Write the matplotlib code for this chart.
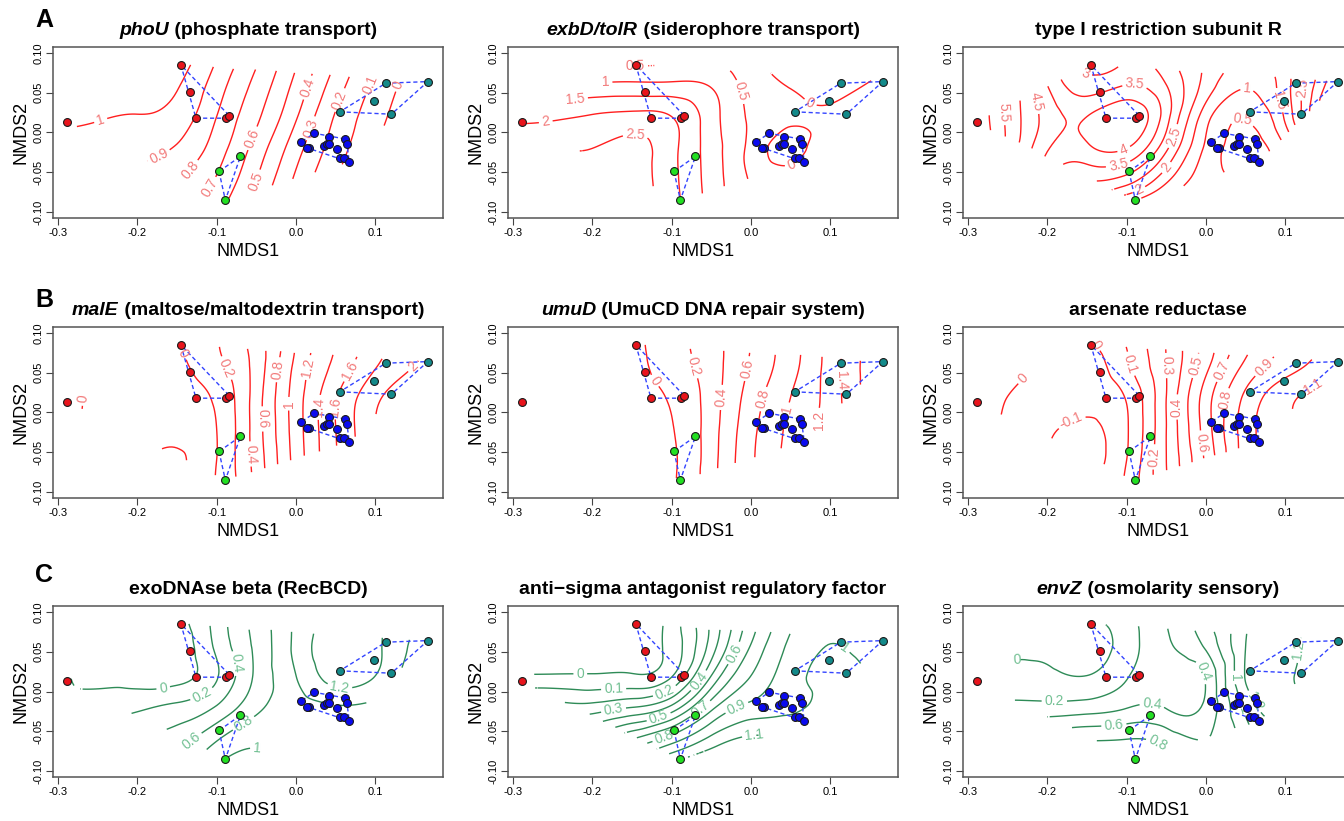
import numpy as np
import matplotlib
matplotlib.use('Agg')
import matplotlib.pyplot as plt
from matplotlib.tri import Triangulation, UniformTriRefiner
from matplotlib.path import Path
from matplotlib.transforms import offset_copy

plt.rcParams['font.family'] = ['Liberation Sans', 'DejaVu Sans']

# NMDS site scores, by group
out_x = [-0.289]
out_y = [0.013]
red_x = [-0.145, -0.134, -0.126, -0.088, -0.084]
red_y = [0.085, 0.051, 0.018, 0.018, 0.021]
green_x = [-0.097, -0.070, -0.089]
green_y = [-0.049, -0.030, -0.085]
teal_x = [0.055, 0.113, 0.098, 0.120, 0.166]
teal_y = [0.026, 0.062, 0.040, 0.023, 0.064]
blue_x = [0.006, 0.016, 0.014, 0.023, 0.035, 0.039, 0.041, 0.042, 0.052, 0.061, 0.064, 0.055, 0.060, 0.067]
blue_y = [-0.012, -0.020, -0.019, -0.001, -0.017, -0.015, -0.006, -0.015, -0.021, -0.008, -0.014, -0.032, -0.032, -0.037]

# coarse grid of fitted surface values
grid_x = [-0.30, -0.25, -0.20, -0.15, -0.10, -0.05, 0.00, 0.05, 0.10, 0.15, 0.20]
grid_y = [-0.10, -0.06, -0.02, 0.02, 0.06, 0.10]

phou_z = [
    [0.84, 0.82, 0.80, 0.74, 0.62, 0.44, 0.22, 0.06, -0.08, -0.22, -0.36],
    [0.91, 0.89, 0.87, 0.81, 0.69, 0.50, 0.28, 0.10, -0.04, -0.18, -0.32],
    [0.965, 0.95, 0.925, 0.89, 0.75, 0.56, 0.34, 0.15, 0.00, -0.14, -0.28],
    [1.03, 1.01, 0.995, 0.96, 0.80, 0.62, 0.41, 0.19, 0.04, -0.10, -0.24],
    [1.10, 1.085, 1.065, 1.01, 0.85, 0.67, 0.47, 0.25, 0.08, -0.06, -0.20],
    [1.17, 1.16, 1.14, 1.07, 0.91, 0.73, 0.53, 0.31, 0.13, -0.02, -0.16],
]
exbd_z = [
    [3.00, 3.00, 3.00, 2.90, 2.20, 1.30, 0.45, 0.30, 0.35, 0.30, 0.30],
    [2.80, 2.80, 2.80, 2.75, 2.15, 1.28, 0.45, 0.20, 0.30, 0.30, 0.30],
    [2.45, 2.50, 2.50, 2.65, 2.15, 1.25, 0.35, -0.15, 0.30, 0.25, 0.30],
    [1.85, 1.90, 2.05, 2.15, 2.00, 1.22, 0.42, 0.08, 0.10, 0.20, 0.30],
    [1.05, 1.07, 1.07, 1.10, 1.10, 0.95, 0.30, -0.03, -0.15, 0.03, 0.10],
    [0.20, 0.15, 0.15, 0.10, 0.20, 0.30, 0.05, -0.20, -0.30, -0.20, -0.10],
]
typei_z = [
    [6.5, 5.0, 2.8, 2.0, 0.8, 0.8, 0.4, 0.3, 0.6, 2.0, 3.5],
    [6.6, 5.3, 3.5, 3.0, 2.75, 1.6, 0.7, 0.4, 0.8, 2.5, 4.0],
    [6.8, 5.4, 4.05, 3.9, 4.0, 2.6, 0.9, 0.3, 1.0, 3.0, 5.0],
    [6.8, 5.4, 4.3, 4.0, 4.4, 3.2, 1.2, 0.55, 1.6, 4.0, 6.0],
    [6.6, 5.3, 4.0, 3.2, 3.5, 3.0, 1.8, 1.05, 1.8, 3.5, 5.0],
    [6.5, 5.0, 3.4, 2.7, 3.0, 2.6, 2.0, 1.5, 2.0, 3.5, 5.0],
]
male_z = [
    [0.10, -0.10, -0.15, -0.15, 0.00, 0.45, 1.05, 1.55, 1.90, 2.10, 2.30],
    [0.10, -0.10, -0.18, -0.22, 0.00, 0.48, 1.08, 1.58, 1.95, 2.20, 2.40],
    [0.10, -0.08, -0.18, -0.15, 0.00, 0.50, 1.10, 1.60, 2.00, 2.30, 2.50],
    [0.10, -0.05, -0.15, -0.12, 0.04, 0.50, 1.10, 1.58, 1.95, 2.20, 2.40],
    [0.10, -0.02, -0.10, -0.05, 0.15, 0.48, 1.05, 1.45, 1.78, 2.00, 2.20],
    [0.10, 0.00, -0.05, 0.05, 0.18, 0.50, 1.00, 1.40, 1.70, 1.95, 2.20],
]
umud_z = [
    [-0.10, -0.10, -0.10, -0.08, -0.04, 0.32, 0.78, 1.08, 1.30, 1.65, 2.00],
    [-0.10, -0.10, -0.10, -0.08, -0.03, 0.32, 0.765, 1.06, 1.30, 1.65, 2.00],
    [-0.10, -0.10, -0.10, -0.08, -0.01, 0.31, 0.74, 1.04, 1.28, 1.65, 2.00],
    [-0.10, -0.10, -0.10, -0.07, 0.024, 0.30, 0.69, 1.00, 1.29, 1.70, 2.00],
    [-0.10, -0.10, -0.10, -0.05, 0.093, 0.31, 0.625, 0.93, 1.29, 1.70, 2.00],
    [-0.10, -0.10, -0.10, -0.04, 0.12, 0.32, 0.60, 0.91, 1.28, 1.70, 2.00],
]
arsen_z = [
    [0.00, -0.05, -0.08, -0.10, 0.02, 0.30, 0.60, 0.95, 1.10, 1.15, 1.20],
    [0.00, -0.04, -0.10, -0.13, 0.00, 0.30, 0.62, 0.95, 1.10, 1.15, 1.20],
    [0.05, -0.02, -0.085, -0.115, -0.01, 0.30, 0.65, 0.95, 1.08, 1.15, 1.20],
    [0.10, 0.00, -0.05, -0.07, 0.01, 0.30, 0.65, 0.92, 1.07, 1.15, 1.20],
    [0.15, 0.05, -0.02, -0.04, 0.08, 0.30, 0.57, 0.82, 0.95, 1.05, 1.15],
    [0.20, 0.10, 0.00, 0.00, 0.12, 0.30, 0.55, 0.75, 0.90, 1.00, 1.10],
]
exo_z = [
    [0.30, 0.40, 0.50, 0.70, 1.05, 1.15, 1.00, 0.90, 0.85, 0.75, 0.60],
    [0.20, 0.30, 0.40, 0.50, 0.78, 0.95, 0.92, 0.90, 0.85, 0.75, 0.60],
    [0.05, 0.10, 0.16, 0.25, 0.42, 0.75, 0.92, 0.98, 0.95, 0.80, 0.60],
    [0.05, -0.05, -0.08, -0.08, 0.18, 0.64, 1.00, 1.30, 1.20, 0.85, 0.60],
    [-0.03, -0.08, -0.12, -0.12, 0.25, 0.65, 1.05, 1.35, 1.25, 0.95, 0.70],
    [-0.05, -0.08, -0.10, -0.05, 0.30, 0.65, 1.05, 1.30, 1.25, 1.00, 0.80],
]
anti_z = [
    [0.60, 0.70, 0.85, 1.00, 1.20, 1.25, 1.20, 1.15, 1.10, 1.05, 1.00],
    [0.45, 0.50, 0.55, 0.70, 0.85, 1.03, 1.12, 1.08, 1.05, 1.05, 1.00],
    [0.25, 0.25, 0.24, 0.30, 0.43, 0.77, 0.93, 0.98, 1.03, 1.03, 1.00],
    [0.01, 0.01, 0.01, 0.01, 0.09, 0.50, 0.80, 0.96, 1.02, 1.00, 0.97],
    [-0.15, -0.15, -0.12, -0.08, 0.04, 0.34, 0.70, 0.92, 1.00, 0.98, 0.95],
    [-0.20, -0.20, -0.20, -0.15, 0.04, 0.33, 0.63, 0.87, 0.98, 0.98, 0.95],
]
envz_z = [
    [0.80, 0.90, 0.95, 1.00, 1.05, 0.90, 0.70, 0.80, 1.10, 1.00, 0.90],
    [0.60, 0.65, 0.72, 0.78, 0.80, 0.72, 0.60, 0.90, 1.20, 1.10, 0.90],
    [0.28, 0.27, 0.27, 0.30, 0.39, 0.39, 0.45, 1.05, 1.28, 1.10, 0.90],
    [0.06, 0.05, 0.04, 0.00, 0.18, 0.30, 0.42, 1.22, 1.28, 1.00, 0.80],
    [-0.05, -0.05, -0.06, -0.10, 0.10, 0.37, 0.65, 1.20, 1.28, 1.10, 0.90],
    [-0.10, -0.10, -0.10, 0.00, 0.15, 0.40, 0.72, 1.20, 1.28, 1.15, 1.00],
]

# where the contour labels sit (data coordinates)
phou_lab = [(-0.245, 0.012), (-0.175, -0.025), (-0.135, -0.046), (-0.11, -0.069), (-0.053, -0.008),
            (-0.055, -0.06), (0.01, 0.058), (0.022, 0.004), (0.047, 0.044), (0.094, 0.06), (0.138, 0.056)]
exbd_lab = [(-0.146, 0.081), (-0.183, 0.060), (-0.221, 0.040), (-0.258, 0.010), (-0.146, -0.008),
            (-0.018, 0.05), (0.071, 0.031), (0.048, -0.033)]
typei_lab = [(-0.153, 0.071), (-0.09, 0.058), (-0.219, 0.0375), (-0.257, 0.025), (-0.105, -0.017),
             (-0.109, -0.048), (-0.043, -0.004), (-0.05, -0.044), (-0.084, -0.073), (0.051, 0.048),
             (0.045, 0.010), (0.098, 0.042), (0.121, 0.056)]
male_lab = [(-0.146, 0.072), (-0.085, 0.057), (-0.055, -0.052), (-0.039, -0.008), (-0.018, 0.053),
            (-0.007, 0.011), (0.022, 0.055), (0.026, 0.0067), (0.064, 0.055), (0.054, 0.0067),
            (0.148, 0.057), (-0.268, 0.017)]
umud_lab = [(-0.121, 0.04), (-0.068, 0.059), (-0.038, 0.019), (-0.004, 0.055), (0.015, 0.017),
            (0.053, 0.0025), (0.087, -0.01), (0.113, 0.04)]
arsen_lab = [(-0.229, 0.046), (-0.168, -0.014), (-0.17, 0.076), (-0.096, 0.061), (-0.062, -0.056),
             (-0.05, 0.059), (-0.033, 0.007), (-0.014, 0.059), (-0.01, -0.039), (0.02, 0.053),
             (0.026, 0.015), (0.075, 0.055), (0.136, 0.046)]
exo_lab = [(-0.167, 0.003), (-0.118, -0.005), (-0.07, 0.036), (-0.139, -0.053), (-0.068, -0.037),
           (-0.049, -0.068), (0.056, 0.011), (0.041, -0.022)]
anti_lab = [(-0.215, 0.024), (-0.173, 0.003), (-0.11, 0.003), (-0.173, -0.024), (-0.0625, 0.011),
            (-0.117, -0.030), (-0.019, 0.047), (-0.0635, -0.022), (-0.11, -0.055), (-0.019, -0.018),
            (0.004, -0.049), (0.119, 0.057)]
envz_lab = [(-0.2435, 0.038), (-0.191, -0.0095), (-0.068, -0.016), (-0.116, -0.043), (-0.062, -0.068),
            (0.001, 0.026), (0.036, 0.0175), (0.078, -0.0054), (0.040, -0.026), (0.124, 0.051)]

RED, RED_LAB = '#ff1f1f', '#f27a7a'
GRN, GRN_LAB = '#2e8b57', '#72c093'

panels = [
    ('phoU', ' (phosphate transport)', phou_z, np.arange(0, 1.25, 0.1), RED, RED_LAB, phou_lab),
    ('exbD/tolR', ' (siderophore transport)', exbd_z, np.arange(0, 2.6, 0.5), RED, RED_LAB, exbd_lab),
    ('', 'type I restriction subunit R', typei_z, np.arange(0.5, 7.1, 0.5), RED, RED_LAB, typei_lab),
    ('malE', ' (maltose/maltodextrin transport)', male_z, np.arange(-0.2, 2.5, 0.2), RED, RED_LAB, male_lab),
    ('umuD', ' (UmuCD DNA repair system)', umud_z, np.arange(-0.2, 2.1, 0.2), RED, RED_LAB, umud_lab),
    ('', 'arsenate reductase', arsen_z, np.arange(-0.1, 1.25, 0.1), RED, RED_LAB, arsen_lab),
    ('', 'exoDNAse beta (RecBCD)', exo_z, np.arange(0, 1.5, 0.2), GRN, GRN_LAB, exo_lab),
    ('', 'anti\u2212sigma antagonist regulatory factor', anti_z, np.arange(0, 1.25, 0.1), GRN, GRN_LAB, anti_lab),
    ('envZ', ' (osmolarity sensory)', envz_z, np.arange(0, 1.25, 0.2), GRN, GRN_LAB, envz_lab),
]


def convex_hull(xs, ys):
    pts = sorted(set(zip(xs, ys)))
    if len(pts) < 3:
        return pts

    def cross(o, a, b):
        return (a[0] - o[0]) * (b[1] - o[1]) - (a[1] - o[1]) * (b[0] - o[0])
    lower, upper = [], []
    for p in pts:
        while len(lower) >= 2 and cross(lower[-2], lower[-1], p) <= 0:
            lower.pop()
        lower.append(p)
    for p in reversed(pts):
        while len(upper) >= 2 and cross(upper[-2], upper[-1], p) <= 0:
            upper.pop()
        upper.append(p)
    return lower[:-1] + upper[:-1]


all_x = out_x + red_x + green_x + teal_x + blue_x
all_y = out_y + red_y + green_y + teal_y + blue_y
hull_path = Path(convex_hull(all_x, all_y))

# triangulated grid, refined with the cubic interpolator
gx, gy = np.meshgrid(grid_x, grid_y)
nx, ny = len(grid_x), len(grid_y)
tris = []
for j in range(ny - 1):
    for i in range(nx - 1):
        a = j * nx + i
        tris.append([a, a + 1, a + nx + 1])
        tris.append([a, a + nx + 1, a + nx])
tri = Triangulation(gx.ravel(), gy.ravel(), np.array(tris))
refiner = UniformTriRefiner(tri)

fig = plt.figure(figsize=(13.44, 8.21), dpi=100)
W, H = 1344, 821
lefts = [53, 508, 963]
tops = [47, 327, 606]
aw, ah = 390, 171

groups = [
    (out_x, out_y, '#e8141c', False),
    (red_x, red_y, '#e8141c', True),
    (green_x, green_y, '#22e022', True),
    (teal_x, teal_y, '#138a8a', True),
    (blue_x, blue_y, '#0a0af0', True),
]

renderer = fig.canvas.get_renderer()

for k, (ital, rest, z, lev, col, labcol, labpos) in enumerate(panels):
    r, c = divmod(k, 3)
    ax = fig.add_axes([lefts[c] / W, 1 - (tops[r] + ah) / H, aw / W, ah / H])
    ax.set_xlim(-0.306, 0.185)
    ax.set_ylim(-0.1075, 0.1075)

    tri_r, z_r = refiner.refine_field(np.array(z).ravel(), subdiv=4)
    cx = tri_r.x[tri_r.triangles].mean(axis=1)
    cy = tri_r.y[tri_r.triangles].mean(axis=1)
    inside = hull_path.contains_points(np.column_stack([cx, cy]))
    tri_r.set_mask(~inside)
    cs = ax.tricontour(tri_r, z_r, levels=np.round(lev, 2), colors=col, linewidths=1.0,
                       negative_linestyles='solid')
    ax.clabel(cs, fmt='%g', fontsize=10, colors=labcol, inline=True, inline_spacing=3,
              manual=labpos)

    for gx_, gy_, fc, hull in groups:
        if hull:
            h = convex_hull(gx_, gy_)
            hx = [p[0] for p in h] + [h[0][0]]
            hy = [p[1] for p in h] + [h[0][1]]
            ax.plot(hx, hy, color='#3344ff', lw=1.0, ls=(0, (3, 2)), zorder=3)
    for gx_, gy_, fc, hull in groups:
        ax.scatter(gx_, gy_, s=32, c=fc, edgecolors='#1a1a1a', linewidths=0.8, zorder=4)

    ax.set_xticks([-0.3, -0.2, -0.1, 0.0, 0.1])
    ax.set_xticklabels(['-0.3', '-0.2', '-0.1', '0.0', '0.1'])
    ax.set_yticks([-0.10, -0.05, 0.0, 0.05, 0.10])
    ax.set_yticklabels(['-0.10', '-0.05', '0.00', '0.05', '0.10'], rotation=90, va='center')
    ax.tick_params(direction='out', length=5, width=0.8, color='#444444', labelsize=8, pad=2)
    for s in ax.spines.values():
        s.set_color('#555555')
        s.set_linewidth(1.1)
    ax.set_xlabel('NMDS1', fontsize=13, labelpad=4)
    ax.set_ylabel('NMDS2', fontsize=13, labelpad=3)

    # title: italic gene name + bold description, centred over the axes
    parts = ([(ital, 'italic')] if ital else []) + [(rest, 'normal')]
    txts = [ax.text(0, 0, s, fontsize=14, fontweight='bold', style=st) for s, st in parts]
    widths = [t.get_window_extent(renderer).width for t in txts]
    x0 = -sum(widths) / 2
    for t, w in zip(txts, widths):
        t.set_transform(offset_copy(ax.transAxes, fig=fig, x=x0, y=12, units='dots'))
        t.set_position((0.5, 1.0))
        t.set_va('baseline')
        t.set_ha('left')
        x0 += w

for letter, ybase in zip('ABC', [27, 307, 582]):
    fig.text(35 / W, 1 - ybase / H, letter, fontsize=18, fontweight='bold', va='baseline')

fig.savefig('out.png', dpi=100, facecolor='white')
